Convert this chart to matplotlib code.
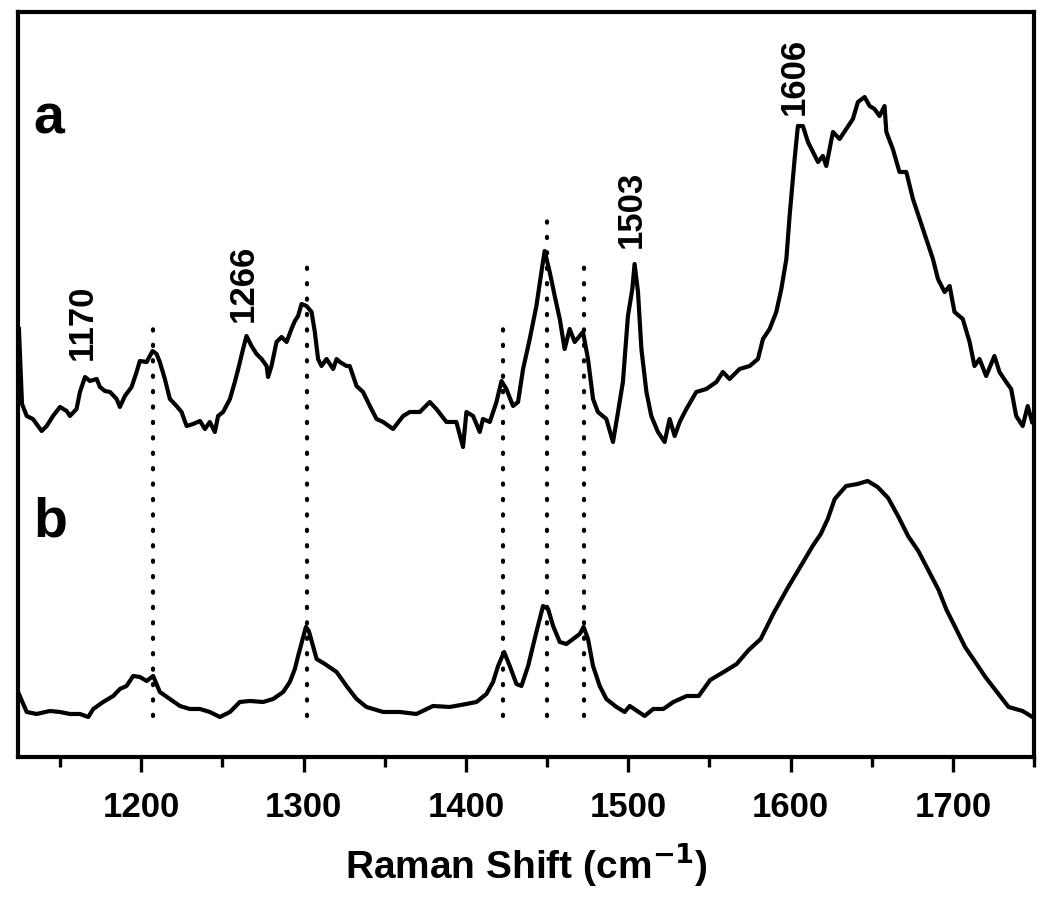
import matplotlib
matplotlib.use("Agg")
import matplotlib.pyplot as plt

# ---- data (intensity in arbitrary units) ----
shift_a = [1124.6, 1126.5, 1129.4, 1133.2, 1138.6, 1141.7, 1145.6, 1149.9, 1154.0, 1156.0,
           1160.1, 1162.2, 1165.3, 1168.3, 1172.5, 1174.5, 1177.6, 1180.7, 1184.8, 1186.8,
           1189.9, 1194.0, 1197.1, 1199.1, 1203.3, 1206.9, 1209.4, 1211.4, 1214.5, 1217.6,
           1221.7, 1224.8, 1227.9, 1231.9, 1236.1, 1239.2, 1242.2, 1245.3, 1247.3, 1250.4,
           1254.6, 1257.6, 1259.7, 1262.7, 1264.8, 1267.9, 1271.0, 1274.1, 1277.2, 1278.1,
           1280.2, 1283.3, 1286.4, 1289.5, 1292.5, 1294.6, 1296.6, 1298.7, 1301.8, 1304.9,
           1306.9, 1308.9, 1311.0, 1314.1, 1318.2, 1320.3, 1322.3, 1326.4, 1328.4, 1332.6,
           1336.6, 1340.8, 1344.9, 1349.0, 1355.1, 1361.3, 1365.4, 1371.6, 1377.7, 1381.8,
           1388.0, 1394.1, 1398.2, 1400.3, 1404.4, 1408.5, 1410.5, 1414.7, 1418.8, 1421.9,
           1424.9, 1429.0, 1432.1, 1435.2, 1439.3, 1443.4, 1446.5, 1448.5, 1451.6, 1454.7,
           1457.8, 1460.8, 1463.9, 1467.0, 1472.1, 1475.2, 1478.3, 1481.3, 1486.5, 1490.6,
           1493.7, 1496.7, 1499.8, 1502.5, 1503.9, 1506.0, 1508.1, 1511.2, 1514.2, 1518.3,
           1522.4, 1525.5, 1528.6, 1531.7, 1535.8, 1541.9, 1548.1, 1554.3, 1558.3, 1562.4,
           1568.6, 1574.8, 1579.9, 1583.0, 1587.1, 1591.2, 1594.3, 1597.4, 1599.4, 1602.5,
           1604.5, 1607.6, 1610.7, 1613.8, 1616.9, 1619.9, 1622.0, 1626.1, 1630.2, 1634.3,
           1638.4, 1641.5, 1645.6, 1648.7, 1651.7, 1654.8, 1657.9, 1659.0, 1663.0, 1667.1,
           1671.3, 1675.4, 1679.5, 1683.6, 1687.7, 1690.8, 1694.9, 1698.0, 1701.0, 1706.1,
           1710.3, 1713.3, 1716.4, 1720.5, 1725.6, 1728.7, 1732.8, 1735.9, 1739.0, 1743.0,
           1746.1, 1748.8]
int_a = [428, 353, 341, 338, 326, 331, 341, 350, 346, 341,
         348, 365, 380, 376, 378, 370, 366, 365, 358, 350,
         361, 370, 385, 396, 395, 406, 403, 395, 378, 358,
         351, 345, 331, 333, 336, 328, 335, 325, 341, 345,
         358, 375, 388, 408, 421, 411, 403, 398, 391, 380,
         391, 415, 420, 415, 428, 436, 441, 453, 451, 445,
         425, 398, 391, 398, 388, 398, 395, 391, 391, 371,
         365, 351, 338, 335, 328, 341, 345, 345, 355, 348,
         335, 335, 310, 345, 341, 325, 338, 335, 355, 376,
         368, 351, 355, 388, 418, 451, 485, 506, 485, 461,
         438, 408, 428, 415, 425, 398, 358, 345, 338, 315,
         345, 375, 441, 468, 493, 465, 408, 365, 341, 325,
         315, 338, 321, 335, 348, 365, 368, 375, 385, 378,
         388, 391, 398, 418, 428, 445, 468, 498, 541, 598,
         631, 631, 615, 605, 595, 601, 591, 625, 618, 628,
         638, 655, 660, 651, 648, 641, 651, 625, 608, 585,
         585, 558, 538, 518, 498, 478, 465, 471, 445, 438,
         415, 391, 398, 381, 401, 385, 375, 368, 341, 331,
         351, 335]

shift_b = [1124.6, 1129.4, 1135.5, 1143.7, 1149.9, 1156.0, 1162.2, 1167.3, 1170.4, 1176.5,
           1182.7, 1186.8, 1190.9, 1195.0, 1199.1, 1203.3, 1207.3, 1211.4, 1217.6, 1223.8,
           1229.9, 1236.1, 1242.2, 1248.4, 1254.6, 1260.7, 1266.9, 1275.1, 1281.2, 1287.4,
           1291.5, 1294.6, 1296.6, 1301.4, 1303.2, 1308.0, 1313.1, 1320.3, 1326.4, 1332.6,
           1338.7, 1349.0, 1359.2, 1369.5, 1379.7, 1390.0, 1400.3, 1406.5, 1412.6, 1416.7,
           1419.8, 1423.5, 1427.0, 1431.1, 1434.2, 1438.3, 1443.4, 1447.5, 1450.6, 1453.7,
           1457.8, 1461.9, 1466.0, 1470.1, 1472.5, 1475.2, 1478.3, 1482.4, 1486.5, 1492.7,
           1497.8, 1500.9, 1510.1, 1515.4, 1521.6, 1527.8, 1536.0, 1543.4, 1550.5, 1558.8,
           1566.8, 1574.2, 1581.6, 1589.6, 1598.2, 1606.3, 1613.6, 1618.6, 1622.9, 1627.2,
           1634.2, 1641.3, 1647.5, 1653.6, 1660.1, 1666.2, 1672.4, 1678.7, 1684.8, 1691.2,
           1696.1, 1701.4, 1707.5, 1713.8, 1720.0, 1728.1, 1734.3, 1742.9, 1749.0]
int_b = [63, 45, 43, 46, 45, 43, 43, 40, 48, 55,
         61, 68, 71, 81, 80, 76, 81, 65, 58, 51,
         48, 48, 45, 40, 45, 55, 56, 55, 58, 65,
         75, 88, 101, 130, 126, 98, 93, 85, 71, 58,
         50, 45, 45, 43, 51, 50, 53, 55, 63, 75,
         91, 105, 91, 73, 71, 91, 125, 151, 148, 131,
         115, 113, 118, 123, 130, 118, 91, 71, 58, 50,
         45, 51, 41, 48, 48, 55, 61, 61, 77, 85,
         93, 107, 118, 144, 169, 191, 211, 223, 238, 258,
         271, 273, 276, 270, 259, 241, 221, 206, 187, 167,
         147, 130, 110, 95, 80, 63, 50, 46, 40]

# dotted guide lines: position, top of line
guide_pos = [1207, 1302, 1423, 1450, 1473]
guide_top = [436, 495, 438, 536, 496]
guide_bottom = 41

# peak labels: text, x, bottom of text
peak_text = ["1170", "1266", "1503", "1606"]
peak_x = [1163.4, 1262.6, 1501.8, 1602.5]
peak_y = [398, 436, 510, 643]

plt.rcParams['font.family'] = ['Liberation Sans', 'DejaVu Sans']
plt.rcParams['font.weight'] = 'bold'

fig = plt.figure(figsize=(10.5, 9.03), dpi=100)
ax = fig.add_axes([0.0171, 0.1606, 0.9677, 0.825])

ax.plot(shift_a, int_a, color='black', lw=3.0, solid_joinstyle='round')
ax.plot(shift_b, int_b, color='black', lw=3.0, solid_joinstyle='round')

for x, top in zip(guide_pos, guide_top):
    ax.plot([x, x], [guide_bottom, top], color='black', lw=3.0,
            linestyle=(0, (0.3, 3.4)), dash_capstyle='round')

for t, x, y in zip(peak_text, peak_x, peak_y):
    ax.text(x, y, t, rotation=90, ha='center', va='bottom', fontsize=25, fontweight='bold')

ax.text(1143, 638, "a", ha='center', va='center', fontsize=40, fontweight='bold')
ax.text(1144, 235, "b", ha='center', va='center', fontsize=40, fontweight='bold')

ax.set_xlim(1124, 1750)
ax.set_ylim(0, 745)
ax.set_xticks([1200, 1300, 1400, 1500, 1600, 1700])
ax.set_xticks([1150, 1250, 1350, 1450, 1550, 1650, 1750], minor=True)
ax.set_yticks([])
ax.tick_params(axis='x', which='major', direction='out', length=11, width=2.4,
               labelsize=25, pad=13)
ax.tick_params(axis='x', which='minor', direction='out', length=7, width=2.4)
for lbl in ax.get_xticklabels():
    lbl.set_fontweight('bold')
for sp in ax.spines.values():
    sp.set_linewidth(3)

ax.set_xlabel("Raman Shift (cm$^{\\mathbf{-1}}$)", fontsize=28, fontweight='bold', labelpad=12)

fig.savefig("out.png", dpi=100)
